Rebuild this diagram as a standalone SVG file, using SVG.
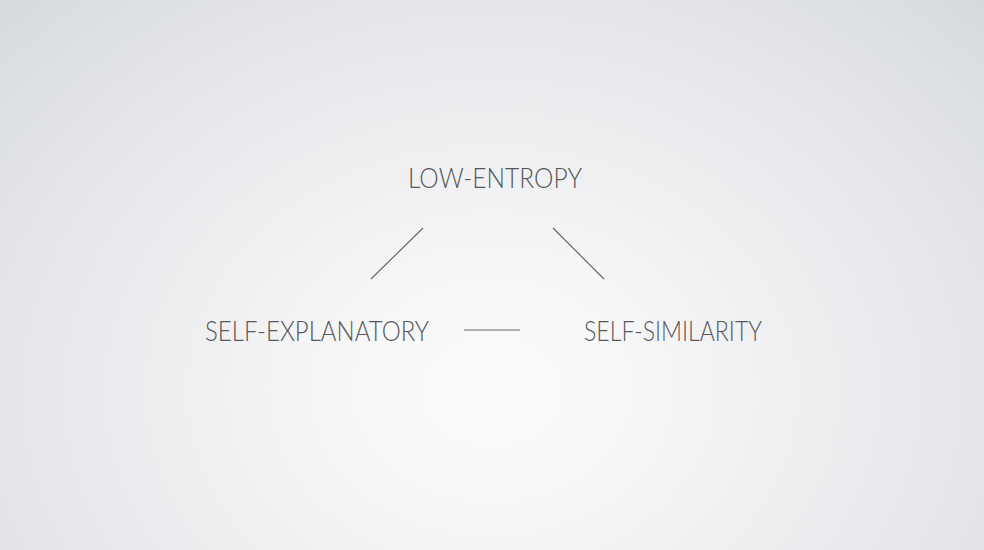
<svg xmlns="http://www.w3.org/2000/svg" width="984" height="550" viewBox="0 0 984 550">
<defs>
<radialGradient id="bg" cx="492" cy="390" r="560" gradientUnits="userSpaceOnUse" gradientTransform="translate(492 390) scale(1.25 1) translate(-492 -390)">
<stop offset="0" stop-color="#fbfbfc"/>
<stop offset="0.2" stop-color="#f7f7f8"/>
<stop offset="0.29" stop-color="#f4f4f6"/>
<stop offset="0.7" stop-color="#e5e6e9"/>
<stop offset="1" stop-color="#d5d9de"/>
</radialGradient>
<style>
.t{font-family:Lato,"Open Sans","Liberation Sans",sans-serif;font-weight:300;font-size:27px;fill:#555759;}
.c{stroke:#66686a;stroke-width:1.2;fill:none;}
</style>
</defs>
<rect width="984" height="550" fill="url(#bg)"/>
<g id="connectors">
<line class="c" x1="423" y1="228" x2="371" y2="279"/>
<line class="c" x1="553" y1="228" x2="604" y2="279"/>
<line class="c" x1="464" y1="330" x2="520" y2="330"/>
</g>
<g id="low-entropy"><text class="t" x="408" y="188" textLength="174" lengthAdjust="spacingAndGlyphs">LOW-ENTROPY</text></g>
<g id="self-explanatory"><text class="t" x="205" y="341" textLength="224" lengthAdjust="spacingAndGlyphs">SELF-EXPLANATORY</text></g>
<g id="self-similarity"><text class="t" x="584" y="341" textLength="178" lengthAdjust="spacingAndGlyphs">SELF-SIMILARITY</text></g>
</svg>
